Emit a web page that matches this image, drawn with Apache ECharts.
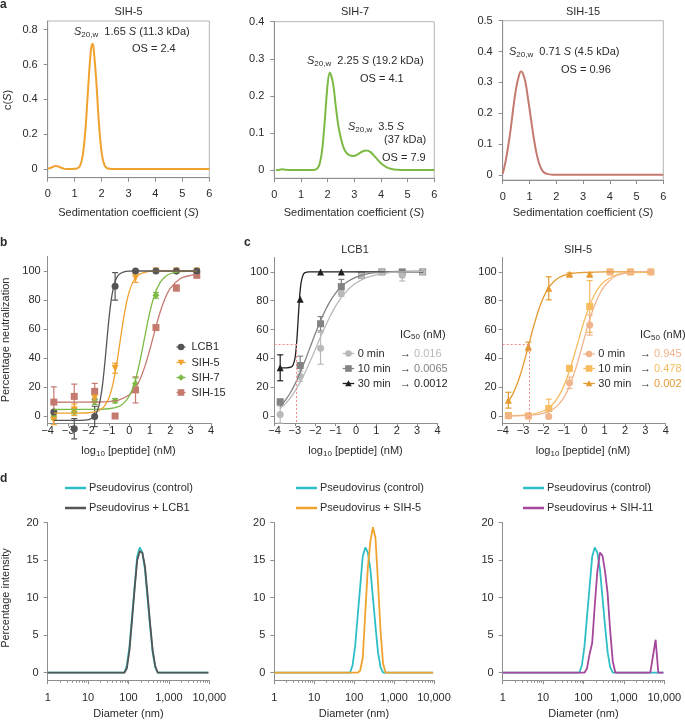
<!DOCTYPE html>
<html>
<head>
<meta charset="utf-8">
<script src="https://cdn.jsdelivr.net/npm/echarts@6.0.0/dist/echarts.min.js"></script>
<style>
html,body{margin:0;padding:0;background:#ffffff;}
#chart{width:685px;height:721px;}
</style>
</head>
<body>
<div id="chart"></div>
<script>
// ================= DATA =================
// --- panel a: c(S) distributions (sedimentation coefficient S vs c(S)) ---
const aS_SIH5  = [0,0.1,0.2,0.3,0.4,0.5,0.6,0.7,0.9,1.0,1.1,1.2,1.3,1.4,1.5,1.6,1.66,1.7,1.8,1.9,2.0,2.1,2.2,2.3,2.5,3,4,5,6];
const aC_SIH5  = [0.002,0.006,0.013,0.017,0.014,0.007,0.002,0,0,0.001,0.004,0.018,0.077,0.223,0.46,0.677,0.72,0.70,0.513,0.266,0.097,0.025,0.005,0.001,0,0,0,0,0];
const aS_SIH7  = [0.06,0.2,0.3,0.4,0.6,1.0,1.4,1.5,1.6,1.7,1.8,1.9,2.0,2.08,2.2,2.3,2.4,2.5,2.6,2.7,2.8,2.95,3.1,3.3,3.45,3.6,3.8,4.0,4.2,4.4,4.6,5,6];
const aC_SIH7  = [0,0.001,0.002,0.001,0,0,0,0.0005,0.003,0.016,0.057,0.14,0.232,0.263,0.235,0.175,0.12,0.085,0.06,0.047,0.041,0.038,0.041,0.05,0.053,0.049,0.034,0.018,0.008,0.003,0.001,0,0];
const aS_SIH15 = [0,0.1,0.2,0.3,0.4,0.5,0.6,0.68,0.75,0.85,0.95,1.05,1.15,1.25,1.35,1.45,1.55,1.7,1.9,2.5,6];
const aC_SIH15 = [0.003,0.04,0.09,0.15,0.22,0.28,0.32,0.335,0.33,0.30,0.245,0.185,0.125,0.075,0.04,0.018,0.007,0.002,0,0,0];

// --- panel b: neutralization vs log10 dose ---
const bDose      = [-3.7,-2.7,-1.7,-0.7,0.3,1.3,2.3,3.3];
const bLCB1      = [2.8,-8.8,-0.3,89.4,100,100,100,100];
const bLCB1Err   = [0,7,7,9.5,0,0,0,0];
const bSIH5      = [-3,4.3,12.4,33,95.2,100,100,100];
const bSIH5Err   = [3,4,2.5,3.5,3,0,0,0];
const bSIH7      = [-1,3,10,10.5,22.3,83.2,100,100];
const bSIH7Err   = [1.5,1.5,2,1.5,4,2,0,0];
const bSIH15     = [9.6,13.5,17,0,18,61,88.3,97];
const bSIH15Err  = [10.5,8.5,5.5,0,9,1,2,0];
// fitted curves
const bFitLCB1X  = [-3.7,-2.5,-2.2,-2.0,-1.8,-1.7,-1.6,-1.5,-1.4,-1.3,-1.2,-1.1,-1.0,-0.9,-0.8,-0.7,-0.6,-0.5,-0.3,0,0.5,3.3];
const bFitLCB1Y  = [-3,-3,-2.85,-2.5,-1.3,0,2.5,6.6,13.3,23.4,36.9,52.4,67.2,79.1,87.4,92.8,95.9,97.7,99.3,99.9,100,100];
const bFitSIH5X  = [-3.7,-2.5,-2.0,-1.75,-1.5,-1.25,-1.0,-0.8,-0.6,-0.4,-0.2,0,0.25,0.5,0.8,1.2,2.0,3.3];
const bFitSIH5Y  = [2,2.03,2.23,2.63,3.65,6.26,12.56,22.5,37.9,56.7,74,86.1,94.3,97.8,99.3,99.85,100,100];
const bFitSIH7X  = [-3.7,-2,-1,-0.5,-0.25,0,0.25,0.5,0.75,1.0,1.25,1.5,1.75,2.0,2.5,3.3];
const bFitSIH7Y  = [4.5,4.52,5.0,6.7,9.2,14,22.8,36.7,54.4,71.6,84.3,92,96.1,98.1,99.6,100];
const bFitSIH15X = [-3.7,-1.5,-1,-0.5,0,0.25,0.5,0.75,1.0,1.25,1.5,1.75,2.0,2.5,3.0,3.3];
const bFitSIH15Y = [9.5,9.65,9.98,11.1,14.7,18.5,24.7,33.9,45.8,59.1,71.4,81.2,88,94.8,97,97.5];

// --- panel c: time of pre-incubation ---
const cDose      = [-3.72,-2.74,-1.74,-0.72,0.27,1.27,2.27,3.27];
const cDose30    = [-3.72,-2.74,-1.74,-0.72,0.27];
const cL0        = [1,27.6,46.9,85,97.7,100,97.7,100];
const cL0Err     = [6,3.5,11,2,1.5,0,4,0];
const cL10       = [9.7,35,64,89.8,97.7,100,100,100];
const cL10Err    = [2,6.5,5,5,1,0,0,0];
const cL30       = [33.4,81,100,100];
const cL30Err    = [9,0,0,0];
const cFitL0X    = [-3.73,-3.5,-3.25,-3.0,-2.75,-2.5,-2.25,-2.0,-1.75,-1.5,-1.25,-1.0,-0.75,-0.5,-0.25,0,0.5,1,1.5,2,3.3];
const cFitL0Y    = [5,8,12,17.1,23.1,30.1,37.9,46.1,54.4,62.4,69.7,76.2,81.6,86,89.5,92.3,96,98,99.2,99.8,100.4];
const cFitL10X   = [-3.73,-3.5,-3.25,-3.0,-2.75,-2.5,-2.25,-2.0,-1.75,-1.5,-1.25,-1.0,-0.75,-0.5,0,0.5,1,2,3.3];
const cFitL10Y   = [6.4,10.2,15.4,21.9,29.7,38.4,47.75,57.1,65.8,73.6,80.1,85.3,89.4,92.5,96.4,98.5,99.5,100.3,100.5];
const cFitL30X   = [-3.75,-3.4,-3.2,-3.1,-3.0,-2.95,-2.9,-2.85,-2.8,-2.75,-2.7,-2.6,-2.5,-2.3,3.3];
const cFitL30Y   = [33.4,33.42,33.8,35,39.6,44.9,53.2,64.3,76,85.6,92.1,97.9,99.5,100,100];
const cS0        = [0,0,-0.5,23,63.1,100,100,100];
const cS0Err     = [0,0,1,4,7,0,0,0];
const cS10       = [0.3,0,5.1,33,76,100,100,100];
const cS10Err    = [0,0,6.5,2,18,0,0,0];
const cS30       = [10.9,48.2,88.6,98.3,98.3];
const cS30Err    = [5.5,3,8,1,1];
const cFitS0X    = [-3.75,-3,-2.5,-2,-1.75,-1.5,-1.25,-1.0,-0.75,-0.5,-0.25,0,0.25,0.5,0.75,1.0,1.5,2.0,2.5,3.3];
const cFitS0Y    = [0.05,0.23,0.65,1.8,3.0,4.9,8.0,12.7,19.6,29.1,40.8,53.6,66.1,76.5,84.5,90.2,96.8,99.1,100,100.3];
const cFitS10X   = [-3.75,-3,-2.5,-2.0,-1.75,-1.5,-1.25,-1.0,-0.75,-0.5,-0.25,0,0.25,0.5,0.75,1.0,1.5,2,2.5,3.3];
const cFitS10Y   = [0.1,0.48,1.28,3.4,5.5,8.8,13.7,20.7,30.1,41.6,54,66,76.2,84,89.7,93.5,97.5,99.1,99.6,99.9];
const cFitS30X   = [-3.75,-3.5,-3.25,-3.0,-2.75,-2.5,-2.25,-2.0,-1.75,-1.5,-1.25,-1.0,-0.5,0,1,3.3];
const cFitS30Y   = [9.5,15.3,23.7,34.8,47.8,61.2,73,82.3,88.9,93.2,95.9,97.6,99.2,99.7,100,100];
const cTimes     = ['0 min','10 min','30 min'];
const cIC50LCB1  = ['0.016','0.0065','0.0012'];
const cIC50SIH5  = ['0.945','0.478','0.002'];

// --- panel d: DLS size distributions ---
const dCtrlD   = [1,78.8,91.3,105.7,122.4,141.8,164.2,190.1,220.2,255,295.3,342,396.1,458.7,531.2,9500];
const dCtrlI   = [0,0,1.0,3.5,7.5,11.5,15.5,16.7,16,13.8,10,6.2,2.7,0.7,0,0];
const dLCB1D   = [1,78.8,91.3,105.7,122.4,141.8,164.2,190.1,220.2,255,295.3,342,396.1,458.7,531.2,9500];
const dLCB1I   = [0,0,0.6,3.0,7.0,11.2,15.0,16.2,16.0,14.2,10.5,6.6,3.0,0.9,0,0];
const dSIH5D   = [1,122.4,141.8,164.2,190.1,220.2,255,295.3,342,396.1,458.7,531.2,615.1,9500];
const dSIH5I   = [0,0,0.3,2,8,14,17.5,19.4,18,12,5.5,1.2,0,0];
const dSIH11D  = [1,105.7,122.4,141.8,164.2,190.1,220.2,255,295.3,342,396.1,458.7,531.2,615.1,4500,6100,7100,9500];
const dSIH11I  = [0,0,0.6,2.5,4,9,13.5,16.0,15.6,13.5,10.5,5.5,1.5,0,0,4.4,0,0];

// --- tick labels ---
const aXTicks  = [0,1,2,3,4,5,6];
const a1YTicks = [0,0.2,0.4,0.6,0.8];
const a2YTicks = [0,0.1,0.2,0.3,0.4];
const a3YTicks = [0,0.1,0.2,0.3,0.4,0.5];
const bcXTicks = [-4,-3,-2,-1,0,1,2,3,4];
const bcYTicks = [0,20,40,60,80,100];
const dXTicks  = [1,10,100,1000,10000];
const dXMinor  = [2,3,4,5,6,7,8,9,20,30,40,50,60,70,80,90,200,300,400,500,600,700,800,900,2000,3000,4000,5000,6000,7000,8000,9000];
const dYTicks  = [0,5,10,15,20];

// ================= STYLE =================
const FONT = '"Liberation Sans", Arial, Helvetica, sans-serif';
const TXT = '#2b2b2b';
const AXC = '#8e8e8e';
const C_SIH5 = '#F0A22E', C_SIH7 = '#7DBA45', C_SIH15 = '#C57A70', C_LCB1 = '#555555';
const C_T0 = '#B9B9B9', C_T10 = '#838383', C_T30 = '#1F1F1F';
const C_S0 = '#F1B48C', C_S10 = '#F6BC5E', C_S30 = '#E49B32';
const C_CTRL = '#2EBEC6', C_DSIH11 = '#A5479A';

function minusFmt(v){ return v < 0 ? '\u2212' + Math.abs(v) : String(v); }
function dFmt(v){ const r = Math.round(v); return ({1:'1',10:'10',100:'100',1000:'1,000',10000:'10,000'})[r] || ''; }

// grids: [left, top, width, height]
const GRIDS = [
  [47.7, 21, 161.6, 156.7],
  [274.3, 21.7, 160, 156.5],
  [502.7, 20.7, 160.6, 159.3],
  [47.7, 256.5, 163.4, 166.75],
  [274.5, 257.5, 163, 165.6],
  [502.7, 257.5, 163, 165.6],
  [47.7, 522.7, 161.6, 157.5],
  [274.3, 522.7, 159.7, 157.5],
  [502.7, 522.7, 161.6, 157.5]
];

function mkAxis(dim, gi, type, min, max, ticks, fmt, tickLen, margin, extra) {
  const ax = {
    type: type, gridIndex: gi, min: min, max: max,
    position: dim === 'x' ? 'bottom' : 'left',
    axisLine: {show: true, onZero: false, lineStyle: {color: AXC, width: 1}},
    axisTick: {show: true, inside: false, length: tickLen, customValues: ticks, lineStyle: {color: AXC, width: 1}},
    axisLabel: {show: true, customValues: ticks, formatter: fmt, color: TXT, fontSize: 11, fontFamily: FONT, margin: margin},
    splitLine: {show: false}, minorTick: {show: false}, minorSplitLine: {show: false}
  };
  if (type === 'log') ax.logBase = 10;
  return Object.assign(ax, extra || {});
}

const xAxes = [
  mkAxis('x',0,'value',0,6,aXTicks,minusFmt,4,11),
  mkAxis('x',1,'value',0,6,aXTicks,minusFmt,4,11),
  mkAxis('x',2,'value',0,6,aXTicks,minusFmt,4,11),
  mkAxis('x',3,'value',-4,4,bcXTicks,minusFmt,3,2),
  mkAxis('x',4,'value',-4,4,bcXTicks,minusFmt,3,2),
  mkAxis('x',5,'value',-4,4,bcXTicks,minusFmt,3,2),
  mkAxis('x',6,'log',1,10000,dXTicks,dFmt,4,12),
  mkAxis('x',7,'log',1,10000,dXTicks,dFmt,4,12),
  mkAxis('x',8,'log',1,10000,dXTicks,dFmt,4,12)
];

const yAxes = [
  mkAxis('y',0,'value',-0.05,0.85,a1YTicks,null,4,10),
  mkAxis('y',1,'value',-0.022,0.4,a2YTicks,null,4,10),
  mkAxis('y',2,'value',-0.017,0.5,a3YTicks,null,4,10),
  mkAxis('y',3,'value',-5,110,bcYTicks,null,4,7),
  mkAxis('y',4,'value',-5,110,bcYTicks,null,4,6),
  mkAxis('y',5,'value',-5,110,bcYTicks,null,4,6),
  mkAxis('y',6,'value',-1,20,dYTicks,null,4,9),
  mkAxis('y',7,'value',-1,20,dYTicks,null,4,9),
  mkAxis('y',8,'value',-1,20,dYTicks,null,4,9)
];

// ================= SERIES =================
const series = [];
function pairs(xs, ys){ return xs.map(function(x,i){ return [x, ys[i]]; }); }
function curve(gi, xs, ys, color, w, smooth, extra) {
  series.push(Object.assign({type:'line', xAxisIndex:gi, yAxisIndex:gi, data:pairs(xs,ys),
    smooth:smooth, symbol:'none', showSymbol:false, lineStyle:{color:color, width:w},
    itemStyle:{color:color}, silent:true, animation:false}, extra || {}));
}
function points(gi, xs, ys, color, symbol, size, rot) {
  series.push({type:'scatter', xAxisIndex:gi, yAxisIndex:gi, data:pairs(xs,ys),
    symbol:symbol, symbolSize:size, symbolRotate:rot || 0, itemStyle:{color:color, opacity:1},
    silent:true, animation:false, clip:false});
}
function errbars(gi, xs, ys, es, color) {
  series.push({type:'custom', xAxisIndex:gi, yAxisIndex:gi,
    data: xs.map(function(x,i){ return [x, ys[i]-es[i], ys[i]+es[i]]; }),
    encode:{x:0, y:[1,2]}, silent:true, animation:false, clip:false,
    renderItem:function(params, api){
      const x = api.value(0);
      if (api.value(2) - api.value(1) <= 0) return null;
      const lo = api.coord([x, api.value(1)]), hi = api.coord([x, api.value(2)]);
      const w = 3, st = {stroke:color, lineWidth:1.2};
      return {type:'group', children:[
        {type:'line', shape:{x1:lo[0], y1:lo[1], x2:hi[0], y2:hi[1]}, style:st},
        {type:'line', shape:{x1:lo[0]-w, y1:lo[1], x2:lo[0]+w, y2:lo[1]}, style:st},
        {type:'line', shape:{x1:hi[0]-w, y1:hi[1], x2:hi[0]+w, y2:hi[1]}, style:st}
      ]};
    }});
}
// minor ticks on the log axes, placed by the log scale itself
function minorTicks(gi, vals, yBase) {
  series.push({type:'custom', xAxisIndex:gi, yAxisIndex:gi, data: vals.map(function(v){ return [v, yBase]; }),
    encode:{x:0, y:1}, silent:true, animation:false, clip:false,
    renderItem:function(params, api){
      const p = api.coord([api.value(0), api.value(1)]);
      return {type:'line', shape:{x1:Math.round(p[0])+0.5, y1:p[1], x2:Math.round(p[0])+0.5, y2:p[1]+2.5}, style:{stroke:AXC, lineWidth:1}};
    }});
}

// panel a
curve(0, aS_SIH5, aC_SIH5, C_SIH5, 2, 0.3);
curve(1, aS_SIH7, aC_SIH7, C_SIH7, 2, 0.3);
curve(2, aS_SIH15, aC_SIH15, C_SIH15, 2, 0.3);

// panel b
curve(3, bFitSIH15X, bFitSIH15Y, C_SIH15, 1.3, 0.3); errbars(3, bDose, bSIH15, bSIH15Err, C_SIH15); points(3, bDose, bSIH15, C_SIH15, 'rect', 7);
curve(3, bFitSIH7X, bFitSIH7Y, C_SIH7, 1.3, 0.3);   errbars(3, bDose, bSIH7, bSIH7Err, C_SIH7);   points(3, bDose, bSIH7, C_SIH7, 'diamond', 7);
curve(3, bFitSIH5X, bFitSIH5Y, C_SIH5, 1.3, 0.3);   errbars(3, bDose, bSIH5, bSIH5Err, C_SIH5);   points(3, bDose, bSIH5, C_SIH5, 'triangle', 7, 180);
curve(3, bFitLCB1X, bFitLCB1Y, C_LCB1, 1.3, 0.3);   errbars(3, bDose, bLCB1, bLCB1Err, C_LCB1);   points(3, bDose, bLCB1, C_LCB1, 'circle', 7);

// panel c – LCB1
const icL = Math.log10(parseFloat(cIC50LCB1[2]));
curve(4, cFitL30X, cFitL30Y, C_T30, 1.3, 0.3, {markLine:{silent:true, symbol:'none', animation:false,
  label:{show:false}, lineStyle:{color:'#F08C8C', type:[2,2], width:1},
  data:[[{coord:[-4,50]},{coord:[icL,50]}],[{coord:[icL,50]},{coord:[icL,-5]}]]}});
errbars(4, cDose30.slice(0,4), cL30, cL30Err, C_T30); points(4, cDose30.slice(0,4), cL30, C_T30, 'triangle', 7);
curve(4, cFitL10X, cFitL10Y, C_T10, 1.3, 0.3); errbars(4, cDose, cL10, cL10Err, C_T10); points(4, cDose, cL10, C_T10, 'rect', 7);
curve(4, cFitL0X, cFitL0Y, C_T0, 1.3, 0.3);    errbars(4, cDose, cL0, cL0Err, C_T0);    points(4, cDose, cL0, C_T0, 'circle', 7);

// panel c – SIH-5
const icS = Math.log10(parseFloat(cIC50SIH5[2]));
curve(5, cFitS30X, cFitS30Y, C_S30, 1.3, 0.3, {markLine:{silent:true, symbol:'none', animation:false,
  label:{show:false}, lineStyle:{color:'#F08C8C', type:[2,2], width:1},
  data:[[{coord:[-4,50]},{coord:[icS,50]}],[{coord:[icS,50]},{coord:[icS,-5]}]]}});
errbars(5, cDose30, cS30, cS30Err, C_S30); points(5, cDose30, cS30, C_S30, 'triangle', 7);
curve(5, cFitS10X, cFitS10Y, C_S10, 1.3, 0.3); errbars(5, cDose, cS10, cS10Err, C_S10); points(5, cDose, cS10, C_S10, 'rect', 7);
curve(5, cFitS0X, cFitS0Y, C_S0, 1.3, 0.3);    errbars(5, cDose, cS0, cS0Err, C_S0);    points(5, cDose, cS0, C_S0, 'circle', 7);

// panel d
minorTicks(6, dXMinor, -1); minorTicks(7, dXMinor, -1); minorTicks(8, dXMinor, -1);
curve(6, dCtrlD, dCtrlI, C_CTRL, 1.8, false);
curve(6, dLCB1D, dLCB1I, C_LCB1, 1.8, false);
curve(7, dCtrlD, dCtrlI, C_CTRL, 1.8, false);
curve(7, dSIH5D, dSIH5I, C_SIH5, 1.8, false);
curve(8, dCtrlD, dCtrlI, C_CTRL, 1.8, false);
curve(8, dSIH11D, dSIH11I, C_DSIH11, 1.8, false);

// ================= TEXT / LEGENDS (graphic) =================
const G = [];
const RICH = {
  i: {fontStyle:'italic', fontSize:11, fontFamily:FONT, fill:TXT, lineHeight:13},
  s: {fontSize:8, fontFamily:FONT, fill:TXT, lineHeight:6, verticalAlign:'bottom'}
};
function txt(x, y, text, o) {
  o = o || {};
  G.push({type:'text', x:x, y:y, rotation:o.rot || 0, silent:true, z:100,
    style:{text:text, fill:o.fill || TXT, fontSize:o.size || 11, fontFamily:FONT,
      fontWeight:o.weight || 'normal', align:o.align || 'left', verticalAlign:o.va || 'middle',
      lineHeight:13, rich:o.rich || RICH}});
}
function gline(x1, y1, x2, y2, color, w) {
  G.push({type:'line', silent:true, z:100, shape:{x1:x1, y1:y1, x2:x2, y2:y2}, style:{stroke:color, lineWidth:w}});
}
function gsym(type, cx, cy, r, color) {
  let el;
  if (type === 'circle') el = {type:'circle', shape:{cx:cx, cy:cy, r:r}};
  else if (type === 'rect') el = {type:'rect', shape:{x:cx-r, y:cy-r, width:2*r, height:2*r}};
  else if (type === 'tri') el = {type:'polygon', shape:{points:[[cx,cy-r],[cx+r,cy+r*0.8],[cx-r,cy+r*0.8]]}};
  else if (type === 'itri') el = {type:'polygon', shape:{points:[[cx-r,cy-r*0.8],[cx+r,cy-r*0.8],[cx,cy+r]]}};
  else el = {type:'polygon', shape:{points:[[cx,cy-r],[cx+r,cy],[cx,cy+r],[cx-r,cy]]}};
  el.style = {fill:color}; el.silent = true; el.z = 101;
  G.push(el);
}

// panel letters
txt(0, 5, 'a', {weight:'bold', size:12});
txt(0, 243, 'b', {weight:'bold', size:12});
txt(244, 243, 'c', {weight:'bold', size:12});
txt(0, 479, 'd', {weight:'bold', size:12});

// titles
txt(128.5, 12, 'SIH-5', {align:'center'});
txt(355, 12, 'SIH-7', {align:'center'});
txt(583, 12, 'SIH-15', {align:'center'});
txt(355, 250, 'LCB1', {align:'center'});
txt(578, 250, 'SIH-5', {align:'center'});

// axis names
txt(8, 100, 'c({i|S})', {align:'center', rot:Math.PI/2});
[128.5, 354, 583].forEach(function(cx){ txt(cx, 213, 'Sedimentation coefficient ({i|S})', {align:'center'}); });
txt(6, 340, 'Percentage neutralization', {align:'center', rot:Math.PI/2});
[128.5, 355.5, 583].forEach(function(cx){ txt(cx, 451, 'log{s|10} [peptide] (nM)', {align:'center'}); });
txt(6, 598, 'Percentage intensity', {align:'center', rot:Math.PI/2});
[128.5, 354, 583.5].forEach(function(cx){ txt(cx, 714, 'Diameter (nm)', {align:'center'}); });

// panel a annotations
txt(74, 32, '{i|S}{s|20,w}  1.65 {i|S} (11.3 kDa)');
txt(132, 49, 'OS = 2.4');
txt(307, 61, '{i|S}{s|20,w}  2.25 {i|S} (19.2 kDa)');
txt(360, 79, 'OS = 4.1');
txt(348, 127, '{i|S}{s|20,w}  3.5 {i|S}');
txt(384, 139.5, '(37 kDa)');
txt(382, 158, 'OS = 7.9');
txt(509, 52, '{i|S}{s|20,w}  0.71 {i|S} (4.5 kDa)');
txt(561, 69.5, 'OS = 0.96');

// panel b legend
const bLeg = [['LCB1', C_LCB1, 'circle'], ['SIH-5', C_SIH5, 'itri'], ['SIH-7', C_SIH7, 'diamond'], ['SIH-15', C_SIH15, 'rect']];
const bLegY = [347, 362.5, 377.5, 392.5];
bLeg.forEach(function(l, i){
  gline(176.5, bLegY[i], 185.5, bLegY[i], l[1], 1.3);
  gsym(l[2], 181, bLegY[i], 3.3, l[1]);
  txt(191.5, bLegY[i], l[0]);
});

// panel c legends
function icLegend(x0, icX, rows, colors, values) {
  txt(icX, rows[0] - 19, 'IC{s|50} (nM)');
  const syms = ['circle', 'rect', 'tri'];
  for (let i = 0; i < 3; i++) {
    gline(x0, rows[i], x0 + 11.5, rows[i], colors[i], 1.3);
    gsym(syms[i], x0 + 5.75, rows[i], 3.3, colors[i]);
    txt(x0 + 15, rows[i], cTimes[i]);
    txt(icX, rows[i], '\u2192 {v' + i + '|' + values[i] + '}', {rich:Object.assign({}, RICH, {
      v0:{fontSize:11, fontFamily:FONT, fill:colors[0], lineHeight:13},
      v1:{fontSize:11, fontFamily:FONT, fill:colors[1], lineHeight:13},
      v2:{fontSize:11, fontFamily:FONT, fill:colors[2], lineHeight:13}})});
  }
}
icLegend(342.7, 400, [353.5, 368.5, 383.5], [C_T0, C_T10, C_T30], cIC50LCB1);
icLegend(583.3, 640, [354, 368.5, 383.5], [C_S0, C_S10, C_S30], cIC50SIH5);

// panel d legends
function dLegend(x0, label2, color2) {
  gline(x0, 488, x0 + 21, 488, C_CTRL, 2.5);
  txt(x0 + 24, 488, 'Pseudovirus (control)');
  gline(x0, 508, x0 + 21, 508, color2, 2.5);
  txt(x0 + 24, 508, label2);
}
dLegend(65, 'Pseudovirus + LCB1', C_LCB1);
dLegend(296, 'Pseudovirus + SIH-5', C_SIH5);
dLegend(523, 'Pseudovirus + SIH-11', C_DSIH11);

// ================= OPTION =================
const option = {
  animation: false,
  backgroundColor: '#ffffff',
  textStyle: {fontFamily: FONT},
  grid: GRIDS.map(function(g, i){
    return {left:g[0], top:g[1], width:g[2], height:g[3], containLabel:false, outerBoundsMode:'none',
      show: i < 3, borderColor:'#b5b5b5', borderWidth:1, backgroundColor:'transparent'};
  }),
  xAxis: xAxes,
  yAxis: yAxes,
  series: series,
  graphic: {elements: G}
};
const chart = echarts.init(document.getElementById('chart'), null, {renderer:'canvas', width:685, height:721});
chart.setOption(option);
</script>
</body>
</html>
